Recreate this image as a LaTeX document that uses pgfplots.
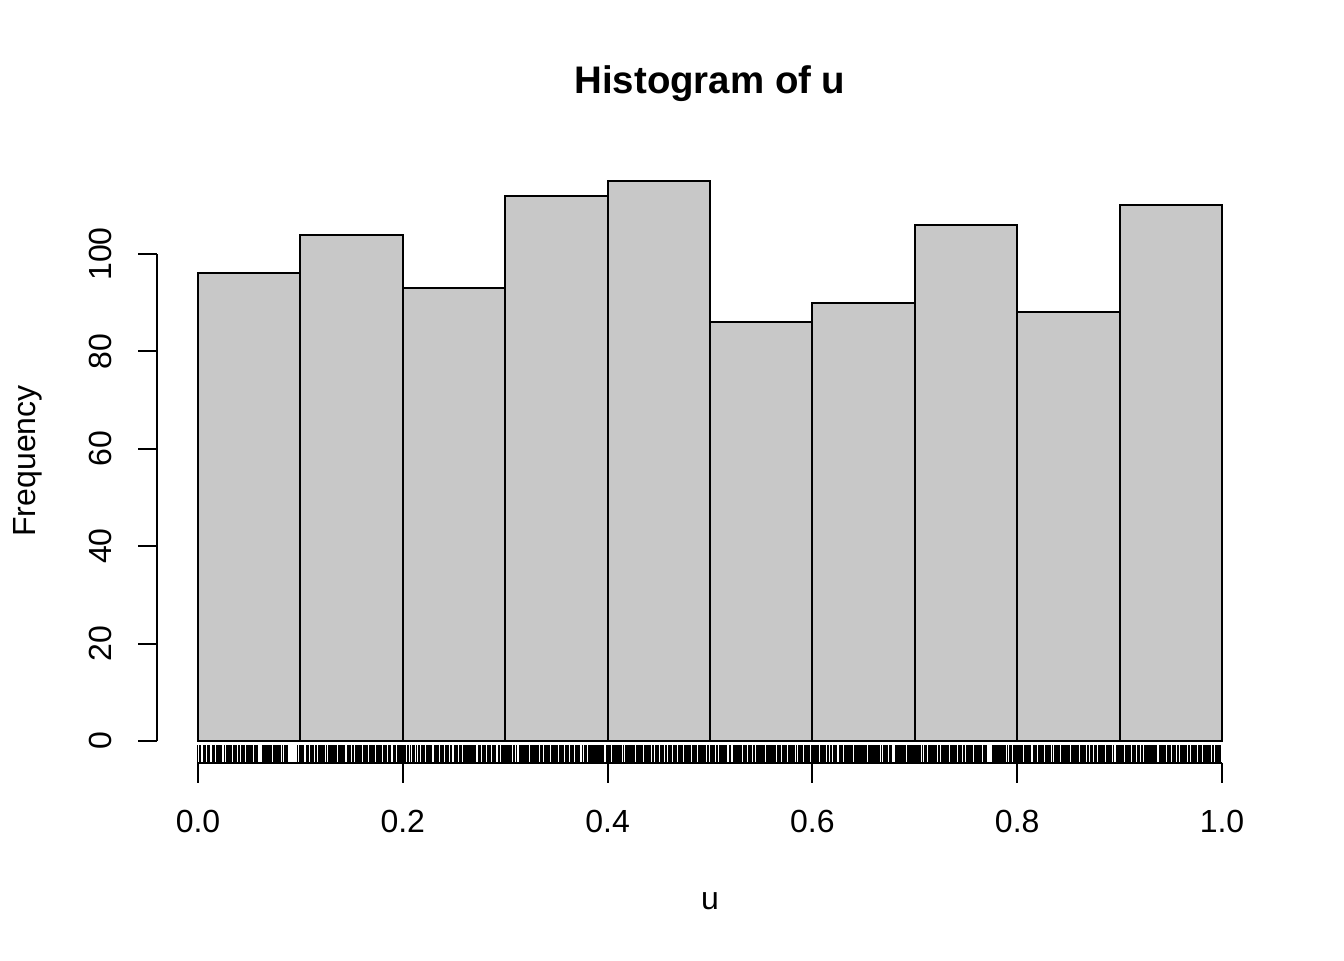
\documentclass[border=0pt]{standalone}
\usepackage{fontspec}
\setmainfont{Liberation Sans}
\usepackage{pgfplots}
\usepackage{pgfplotstable}
\pgfplotsset{compat=1.18}
\definecolor{barfill}{HTML}{C8C8C8}
% rug positions (u in thousandths)
\pgfplotstableread[row sep=\\]{u\\%
0\\1\\2\\5\\6\\7\\9\\10\\11\\14\\15\\16\\18\\19\\20\\21\\22\\23\\26\\28\\29\\30\\31\\32\\33\\35\\36\\37\\38\\40\\41\\42\\43\\44\\45\\47\\48\\49\\50\\51\\52\\53\\55\\56\\57\\58\\63\\64\\65\\66\\67\\68\\69\\70\\71\\72\\74\\75\\76\\77\\78\\79\\80\\81\\83\\84\\85\\86\\87\\97\\99\\%
100\\101\\102\\103\\106\\107\\108\\110\\111\\112\\113\\115\\116\\118\\119\\120\\121\\122\\123\\124\\125\\127\\128\\129\\130\\131\\132\\133\\134\\135\\137\\138\\139\\140\\141\\142\\143\\146\\147\\148\\149\\151\\152\\154\\155\\156\\157\\158\\159\\160\\162\\163\\164\\165\\166\\167\\168\\169\\170\\171\\172\\174\\175\\176\\177\\178\\179\\181\\182\\183\\184\\186\\187\\188\\191\\192\\193\\195\\196\\197\\198\\199\\%
200\\201\\202\\203\\205\\206\\208\\209\\210\\211\\213\\215\\216\\218\\219\\220\\221\\223\\224\\225\\226\\227\\228\\231\\232\\233\\234\\235\\237\\238\\239\\240\\242\\243\\244\\245\\247\\248\\250\\251\\252\\253\\255\\256\\257\\259\\260\\261\\262\\263\\264\\265\\266\\267\\268\\269\\270\\271\\274\\275\\276\\278\\279\\280\\281\\283\\284\\285\\286\\288\\289\\290\\291\\293\\294\\296\\297\\298\\299\\%
300\\301\\302\\303\\304\\305\\306\\308\\309\\311\\314\\315\\316\\317\\318\\319\\320\\321\\322\\323\\325\\326\\327\\328\\329\\330\\331\\332\\333\\334\\335\\336\\338\\339\\340\\341\\342\\343\\345\\346\\347\\348\\349\\350\\351\\353\\354\\355\\356\\357\\359\\360\\361\\362\\364\\365\\366\\367\\369\\370\\371\\372\\373\\375\\377\\378\\379\\381\\382\\383\\384\\385\\386\\387\\388\\389\\390\\391\\392\\393\\394\\395\\396\\399\\%
400\\401\\402\\403\\405\\406\\407\\408\\409\\410\\411\\412\\413\\414\\416\\417\\418\\419\\420\\421\\422\\423\\424\\425\\426\\428\\429\\430\\431\\432\\433\\434\\436\\437\\438\\439\\440\\441\\442\\444\\445\\447\\448\\449\\450\\452\\453\\454\\455\\457\\458\\459\\460\\461\\462\\464\\465\\466\\467\\469\\470\\471\\472\\473\\475\\476\\477\\478\\479\\480\\481\\483\\484\\485\\486\\487\\489\\490\\491\\492\\493\\494\\495\\496\\498\\499\\%
500\\501\\502\\503\\504\\506\\507\\509\\510\\511\\512\\513\\514\\515\\516\\519\\520\\523\\524\\525\\526\\527\\528\\529\\530\\531\\533\\534\\535\\536\\538\\539\\540\\541\\542\\543\\545\\546\\547\\548\\549\\550\\551\\552\\553\\555\\556\\557\\558\\559\\560\\561\\562\\563\\564\\566\\567\\568\\569\\571\\572\\573\\574\\575\\577\\578\\579\\580\\581\\582\\583\\584\\586\\587\\588\\589\\590\\592\\593\\594\\595\\596\\597\\599\\%
600\\601\\602\\603\\604\\605\\606\\608\\609\\610\\611\\612\\613\\615\\616\\618\\619\\621\\622\\623\\624\\626\\627\\628\\629\\631\\632\\633\\634\\635\\636\\637\\638\\639\\641\\642\\643\\644\\645\\646\\647\\648\\649\\650\\651\\652\\653\\655\\656\\657\\658\\659\\660\\661\\662\\663\\664\\665\\666\\667\\669\\670\\671\\672\\673\\675\\676\\677\\681\\682\\683\\684\\685\\686\\687\\688\\689\\690\\691\\693\\694\\695\\696\\697\\698\\699\\%
700\\701\\702\\703\\704\\705\\706\\708\\709\\710\\711\\713\\714\\715\\716\\717\\718\\719\\720\\721\\723\\724\\726\\727\\728\\729\\730\\731\\732\\733\\735\\736\\737\\738\\739\\740\\741\\743\\744\\745\\746\\748\\749\\750\\751\\752\\753\\754\\755\\756\\758\\759\\760\\761\\762\\763\\764\\765\\767\\768\\769\\770\\776\\777\\778\\779\\780\\781\\782\\783\\784\\785\\786\\787\\788\\789\\791\\792\\793\\794\\796\\797\\798\\799\\%
800\\801\\802\\803\\804\\805\\807\\808\\809\\810\\811\\812\\813\\816\\817\\818\\819\\821\\822\\823\\824\\825\\826\\828\\829\\830\\831\\832\\833\\834\\836\\837\\838\\839\\840\\841\\843\\844\\845\\846\\847\\848\\849\\850\\851\\853\\854\\855\\856\\857\\858\\859\\860\\862\\863\\864\\865\\866\\867\\869\\870\\872\\873\\874\\875\\876\\877\\879\\880\\881\\882\\883\\884\\885\\887\\888\\889\\890\\891\\892\\894\\897\\898\\899\\%
900\\901\\902\\903\\904\\906\\907\\908\\909\\910\\911\\913\\914\\915\\916\\917\\918\\919\\921\\922\\924\\925\\926\\927\\928\\929\\930\\931\\932\\933\\934\\935\\936\\939\\940\\941\\942\\943\\944\\945\\947\\948\\949\\950\\952\\953\\954\\955\\957\\958\\959\\960\\961\\962\\963\\964\\965\\967\\968\\970\\971\\972\\973\\974\\975\\977\\978\\979\\980\\982\\983\\984\\985\\986\\987\\988\\989\\991\\992\\994\\995\\996\\997\\998\\999\\%
}\rugdata
\begin{document}
\begin{tikzpicture}
\useasboundingbox (0,0) rectangle (504pt,360pt);
\begin{axis}[
  at={(58.89pt,73.73pt)}, anchor=south west,
  scale only axis, width=414.72pt, height=226.82pt,
  xmin=-0.04, xmax=1.04, ymin=-4.6, ymax=119.6,
  hide axis, clip=false]
\addplot[ybar interval, fill=barfill, draw=black, line width=0.75pt]
  coordinates {(0,96) (0.1,104) (0.2,93) (0.3,112) (0.4,115) (0.5,86) (0.6,90) (0.7,106) (0.8,88) (0.9,110) (1.0,110)};
\addplot[only marks, mark=|, mark size=3.4pt, mark options={line width=0.375pt, draw=black}]
  table[x index=0, y index=0, x expr=\thisrowno{0}/1000, y expr=-2.74] {\rugdata};
% x axis
\draw[line width=0.75pt] (axis cs:0,-4.6) -- (axis cs:1,-4.6);
\pgfplotsinvokeforeach{0,0.2,0.4,0.6,0.8,1}{
  \draw[line width=0.75pt] (axis cs:#1,-4.6) -- ([yshift=-7.2pt]axis cs:#1,-4.6);
}
\node[anchor=base, inner sep=0pt, font=\fontsize{12}{14}\selectfont] at ([yshift=-26.1pt]axis cs:0,-4.6) {0.0};
\node[anchor=base, inner sep=0pt, font=\fontsize{12}{14}\selectfont] at ([yshift=-26.1pt]axis cs:0.2,-4.6) {0.2};
\node[anchor=base, inner sep=0pt, font=\fontsize{12}{14}\selectfont] at ([yshift=-26.1pt]axis cs:0.4,-4.6) {0.4};
\node[anchor=base, inner sep=0pt, font=\fontsize{12}{14}\selectfont] at ([yshift=-26.1pt]axis cs:0.6,-4.6) {0.6};
\node[anchor=base, inner sep=0pt, font=\fontsize{12}{14}\selectfont] at ([yshift=-26.1pt]axis cs:0.8,-4.6) {0.8};
\node[anchor=base, inner sep=0pt, font=\fontsize{12}{14}\selectfont] at ([yshift=-26.1pt]axis cs:1,-4.6) {1.0};
% y axis
\draw[line width=0.75pt] (axis cs:-0.04,0) -- (axis cs:-0.04,100);
\pgfplotsinvokeforeach{0,20,40,60,80,100}{
  \draw[line width=0.75pt] (axis cs:-0.04,#1) -- ([xshift=-7.2pt]axis cs:-0.04,#1);
  \node[rotate=90, anchor=base, inner sep=0pt, font=\fontsize{12}{14}\selectfont] at ([xshift=-16.9pt]axis cs:-0.04,#1) {#1};
}
% axis labels
\node[anchor=base, inner sep=0pt, font=\fontsize{12}{14}\selectfont] at ([yshift=-54.9pt]axis cs:0.5,-4.6) {u};
\node[rotate=90, anchor=base, inner sep=0pt, font=\fontsize{12}{14}\selectfont] at ([xshift=-45.7pt]axis cs:-0.04,57.5) {Frequency};
\end{axis}
\node[anchor=base, inner sep=0pt, font=\fontsize{14.4}{17}\selectfont\bfseries] at (266.25pt,325.1pt) {Histogram of u};
\end{tikzpicture}
\end{document}
